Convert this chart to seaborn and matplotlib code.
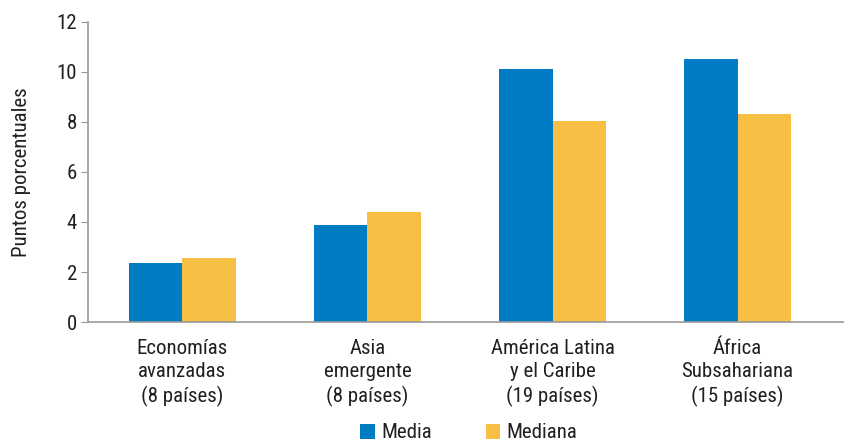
import matplotlib
matplotlib.use("Agg")
import matplotlib.pyplot as plt
import seaborn as sns
import pandas as pd

categories = ["Economías\navanzadas\n(8 países)", "Asia\nemergente\n(8 países)",
              "América Latina\ny el Caribe\n(19 países)", "África\nSubsahariana\n(15 países)"]
media = [2.35, 3.88, 10.1, 10.5]
mediana = [2.56, 4.4, 8.05, 8.32]
series = ["Media", "Mediana"]
colors = ["#017BC4", "#F7C045"]

sns.set_style("white")
plt.rcParams["font.family"] = ["Roboto Condensed", "Liberation Sans", "DejaVu Sans"]
TXT = "#231F20"
FS = 15

df = pd.DataFrame({
    "cat": categories * 2,
    "serie": [series[0]] * 4 + [series[1]] * 4,
    "val": media + mediana,
})

fig = plt.figure(figsize=(8.45, 4.43), dpi=100)
ax = fig.add_axes([88 / 845, 1 - 322 / 443, (845 - 88) / 845, 300 / 443])
sns.barplot(data=df, x="cat", y="val", hue="serie", palette=colors, ax=ax,
            width=0.58, saturation=1, gap=0, edgecolor="none")
ax.set_xlim(-0.51, 3.58)
ax.set_ylim(0, 12)
ax.set_yticks(range(0, 13, 2))
ax.tick_params(axis="y", labelsize=FS, length=5, color="#999999", direction="out", pad=3, left=True)
ax.tick_params(axis="x", labelsize=FS, length=0, pad=12)
for lab in ax.get_yticklabels():
    lab.set_color(TXT)
for lab in ax.get_xticklabels():
    lab.set_color(TXT)
    lab.set_linespacing(1.3)
ax.set_xlabel("")
ax.set_ylabel("Puntos porcentuales", fontsize=FS, color=TXT, labelpad=18)
for s in ["top", "right"]:
    ax.spines[s].set_visible(False)
for s in ["left", "bottom"]:
    ax.spines[s].set_color("#999999")
    ax.spines[s].set_linewidth(1.2)
leg = ax.legend(loc="center", bbox_to_anchor=(0.503, -0.37), ncol=2, frameon=False,
                fontsize=FS, handlelength=0.7, handleheight=0.7, handletextpad=0.3,
                columnspacing=2.6, borderpad=0)
for t in leg.get_texts():
    t.set_color(TXT)
fig.savefig("out.png", dpi=100)
